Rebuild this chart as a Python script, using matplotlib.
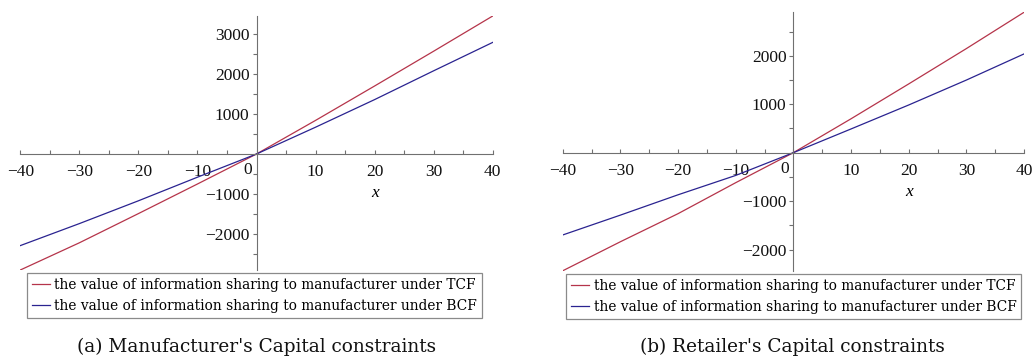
import matplotlib
matplotlib.use("Agg")
import matplotlib.pyplot as plt
from matplotlib.ticker import MultipleLocator, FixedLocator
import matplotlib.transforms as mtransforms

# ---- data ----
x_vals = [-40, -30, -20, -10, 0, 10, 20, 30, 40]

# (a) Manufacturer's capital constraints
a_tcf = [-2900, -2220, -1490, -750, 0, 840, 1700, 2570, 3450]
a_bcf = [-2290, -1740, -1170, -580, 0, 670, 1360, 2080, 2790]

# (b) Retailer's capital constraints
b_tcf = [-2440, -1840, -1260, -620, 0, 700, 1420, 2150, 2900]
b_bcf = [-1700, -1290, -870, -470, 0, 490, 985, 1500, 2040]

labels = ["the value of information sharing to manufacturer under TCF",
          "the value of information sharing to manufacturer under BCF"]
captions = ["(a) Manufacturer's Capital constraints",
            "(b) Retailer's Capital constraints"]
x_ticks = [-40, -30, -20, -10, 0, 10, 20, 30, 40]
a_yticks = [-2000, -1000, 1000, 2000, 3000]
b_yticks = [-2000, -1000, 1000, 2000]

RED = "#B5344A"
BLUE = "#2A2390"
AXC = "#707070"

W, H = 1032, 359
fig = plt.figure(figsize=(W / 100, H / 100), dpi=100)


def px_axes(l, r, t, b):
    return fig.add_axes([l / W, 1 - b / H, (r - l) / W, (b - t) / H])


def minus(v):
    s = f"{abs(v)}"
    return ("\u2212" + s) if v < 0 else s


def style(ax, ylim, yticks):
    ax.set_xlim(-40, 40)
    ax.set_ylim(*ylim)
    for s in ("top", "right"):
        ax.spines[s].set_visible(False)
    for s in ("left", "bottom"):
        ax.spines[s].set_position(("data", 0))
        ax.spines[s].set_color(AXC)
        ax.spines[s].set_linewidth(0.8)
    ax.patch.set_visible(False)
    ax.xaxis.set_major_locator(FixedLocator(x_ticks))
    ax.set_xticklabels([minus(v) for v in x_ticks])
    ax.xaxis.set_minor_locator(MultipleLocator(5))
    ax.yaxis.set_major_locator(FixedLocator(yticks))
    ax.set_yticklabels([minus(v) for v in yticks])
    ax.yaxis.set_minor_locator(MultipleLocator(500))
    ax.tick_params(axis="x", which="both", direction="in", length=3,
                   color=AXC, width=0.8, pad=7.5)
    ax.tick_params(axis="y", which="both", direction="out", length=3,
                   color=AXC, width=0.8, pad=2)
    for lab in ax.get_xticklabels() + ax.get_yticklabels():
        lab.set_fontfamily("Liberation Serif")
        lab.set_fontsize(12.5)
        lab.set_color("#111111")
    # shift the "0" label left like the reference
    for lab, v in zip(ax.get_xticklabels(), x_ticks):
        if v == 0:
            lab.set_transform(lab.get_transform() +
                              mtransforms.ScaledTranslation(-6 / 72, 1.5 / 72, fig.dpi_scale_trans))
    ax.annotate("x", xy=(20, 0), xycoords="data", xytext=(0, -28),
                textcoords="offset points", ha="center", va="center",
                fontsize=12.5, fontstyle="italic", family="Liberation Serif")


# left panel
ax1 = px_axes(20.3, 492.7, 16.0, 270.0)
l1, = ax1.plot(x_vals, a_tcf, color=RED, lw=0.9)
l2, = ax1.plot(x_vals, a_bcf, color=BLUE, lw=0.9)
style(ax1, (a_tcf[0], a_tcf[-1]), a_yticks)

# right panel
ax2 = px_axes(562.7, 1024.0, 12.3, 270.8)
r1, = ax2.plot(x_vals, b_tcf, color=RED, lw=0.9)
r2, = ax2.plot(x_vals, b_bcf, color=BLUE, lw=0.9)
style(ax2, (b_tcf[0], b_tcf[-1]), b_yticks)

leg_kw = dict(loc="upper left", bbox_transform=fig.transFigure,
              prop={"family": "DejaVu Serif", "size": 9.9},
              handlelength=1.35, handletextpad=0.3, borderpad=0.35,
              labelspacing=0.5, fancybox=False, framealpha=1,
              edgecolor="#8a8a8a", borderaxespad=0)
lg1 = ax1.legend([l1, l2], labels, bbox_to_anchor=(26.7 / W, 1 - 273.3 / H), **leg_kw)
lg2 = ax2.legend([r1, r2], labels, bbox_to_anchor=(566 / W, 1 - 274 / H), **leg_kw)
for lg in (lg1, lg2):
    lg.get_frame().set_linewidth(0.9)

fig.text(257 / W, 1 - 347 / H, captions[0], ha="center", va="center",
         family="DejaVu Serif", fontsize=13.3, color="#111111")
fig.text(792 / W, 1 - 347 / H, captions[1], ha="center", va="center",
         family="DejaVu Serif", fontsize=13.3, color="#111111")

fig.savefig("out.png", dpi=100)
